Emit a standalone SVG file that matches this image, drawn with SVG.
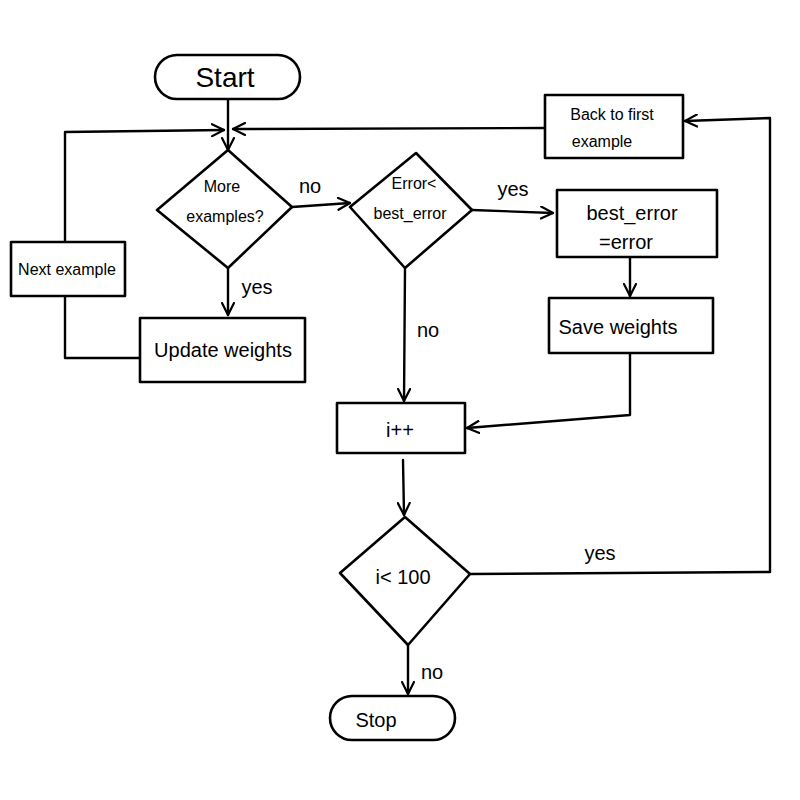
<svg xmlns="http://www.w3.org/2000/svg" width="800" height="800" viewBox="0 0 800 800">
  <defs>
    <marker id="arrow" viewBox="0 0 14 14" refX="13" refY="7" markerWidth="14" markerHeight="14" markerUnits="userSpaceOnUse" orient="auto">
      <path d="M1,1 L13,7 L1,13" fill="none" stroke="#000" stroke-width="2.2" stroke-linecap="round" stroke-linejoin="round"/>
    </marker>
  </defs>
  <style>
    .shape { fill: #fff; stroke: #000; stroke-width: 2.6; stroke-linejoin: round; }
    .line { fill: none; stroke: #000; stroke-width: 2.4; stroke-linecap: round; stroke-linejoin: round; }
    .lbl { font-family: "Liberation Sans", "DejaVu Sans", sans-serif; font-size: 20px; fill: #000; text-anchor: middle; }
    .sm { font-size: 16px; }
    .big { font-size: 28px; }
  </style>
  <rect width="800" height="800" fill="#fff"/>

  <!-- connectors -->
  <g id="connectors">
    <!-- Start to decision -->
    <path class="line" d="M228,100 L228,150" marker-end="url(#arrow)"/>
    <!-- Next example loop back to top -->
    <path class="line" d="M65,242 L65,132 L224,130" marker-end="url(#arrow)"/>
    <!-- Back to first example to top -->
    <path class="line" d="M545,128 L233,129" marker-end="url(#arrow)"/>
    <!-- More examples? no -->
    <path class="line" d="M292,207 L350,203" marker-end="url(#arrow)"/>
    <!-- More examples? yes -->
    <path class="line" d="M228,268 L228,315" marker-end="url(#arrow)"/>
    <!-- Update weights to Next example -->
    <path class="line" d="M140,358 L65,358 L65,296"/>
    <!-- Error decision yes -->
    <path class="line" d="M472,210 L553,213" marker-end="url(#arrow)"/>
    <!-- Error decision no -->
    <path class="line" d="M405,268 L404,401" marker-end="url(#arrow)"/>
    <!-- best_error to Save weights -->
    <path class="line" d="M630,257 L630,296" marker-end="url(#arrow)"/>
    <!-- Save weights to i++ -->
    <path class="line" d="M630,353 L630,415 L467,428" marker-end="url(#arrow)"/>
    <!-- i++ to i<100 -->
    <path class="line" d="M403,460 L404,515" marker-end="url(#arrow)"/>
    <!-- i<100 yes -->
    <path class="line" d="M470,574 L770,572 L770,118 L685,121" marker-end="url(#arrow)"/>
    <!-- i<100 no -->
    <path class="line" d="M408,645 L408,694" marker-end="url(#arrow)"/>
    <text class="lbl" x="310" y="193">no</text>
    <text class="lbl" x="257" y="294">yes</text>
    <text class="lbl" x="513" y="196">yes</text>
    <text class="lbl" x="428" y="337">no</text>
    <text class="lbl" x="600" y="560">yes</text>
    <text class="lbl" x="432" y="679">no</text>
  </g>

  <g id="start">
    <rect class="shape" x="155" y="55" width="145" height="44" rx="22"/>
    <text class="lbl big" x="225" y="87">Start</text>
  </g>

  <g id="back-to-first">
    <rect class="shape" x="545" y="95" width="138" height="63"/>
    <text class="lbl sm" x="612" y="120">Back to first</text>
    <text class="lbl sm" x="602" y="147">example</text>
  </g>

  <g id="more-examples">
    <polygon class="shape" points="228,150 292,207 228,268 157,210"/>
    <text class="lbl sm" x="222" y="192">More</text>
    <text class="lbl sm" x="225" y="222">examples?</text>
  </g>

  <g id="error-check">
    <polygon class="shape" points="416,153 472,210 405,268 350,207"/>
    <text class="lbl sm" x="414" y="189">Error&lt;</text>
    <text class="lbl sm" x="410" y="219">best_error</text>
  </g>

  <g id="best-error">
    <rect class="shape" x="557" y="190" width="160" height="67"/>
    <text class="lbl" x="632" y="220">best_error</text>
    <text class="lbl" x="626" y="249">=error</text>
  </g>

  <g id="save-weights">
    <rect class="shape" x="549" y="298" width="164" height="55"/>
    <text class="lbl" x="618" y="334">Save weights</text>
  </g>

  <g id="next-example">
    <rect class="shape" x="11" y="242" width="114" height="54"/>
    <text class="lbl sm" x="67" y="275">Next example</text>
  </g>

  <g id="update-weights">
    <rect class="shape" x="140" y="318" width="165" height="64"/>
    <text class="lbl" x="223" y="357">Update weights</text>
  </g>

  <g id="increment">
    <rect class="shape" x="337" y="403" width="128" height="50"/>
    <text class="lbl" x="400" y="437">i++</text>
  </g>

  <g id="loop-check">
    <polygon class="shape" points="405,517 470,574 408,645 340,573"/>
    <text class="lbl" x="403" y="584">i&lt; 100</text>
  </g>

  <g id="stop">
    <rect class="shape" x="330" y="696" width="125" height="44" rx="22"/>
    <text class="lbl" x="376" y="727">Stop</text>
  </g>
</svg>
